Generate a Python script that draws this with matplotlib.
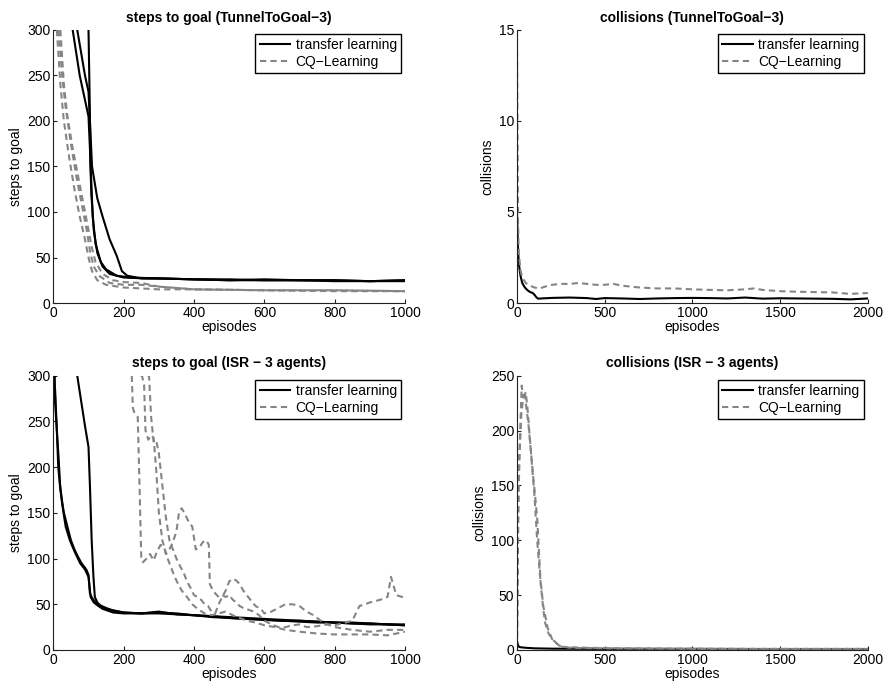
import matplotlib.pyplot as plt

plt.rcParams['font.family'] = ['Liberation Sans', 'DejaVu Sans']
plt.rcParams['font.size'] = 10

# ---- TunnelToGoal-3, steps to goal ----
tg_tl1_x = [55, 75, 100, 104, 108, 115, 125, 140, 160, 200, 260, 300, 400, 500, 600, 700, 800, 900, 1000]
tg_tl1_y = [300, 250, 205, 170, 120, 80, 55, 40, 32, 28, 27, 27, 26, 25, 25, 25, 24, 24, 25]
tg_tl2_x = [68, 90, 100, 104, 110, 125, 140, 160, 180, 195, 210, 250, 300, 400, 500, 600, 700, 800, 900, 1000]
tg_tl2_y = [300, 250, 232, 200, 150, 115, 95, 70, 52, 35, 30, 27, 27, 26, 25, 26, 25, 25, 24, 25]
tg_tl3_x = [100, 103, 106, 112, 120, 135, 150, 180, 220, 300, 400, 500, 600, 700, 800, 900, 1000]
tg_tl3_y = [300, 230, 150, 95, 65, 45, 37, 30, 28, 27, 26, 26, 25, 25, 25, 24, 24]

tg_cq1_x = [10, 15, 20, 30, 45, 60, 75, 90, 100, 110, 125, 150, 200, 300, 400, 600, 800, 1000]
tg_cq1_y = [300, 270, 240, 200, 160, 125, 95, 70, 50, 35, 25, 20, 17, 15, 15, 14, 14, 13]
tg_cq2_x = [15, 20, 25, 35, 50, 65, 80, 95, 105, 115, 130, 160, 200, 250, 300, 400, 600, 800, 1000]
tg_cq2_y = [300, 275, 250, 215, 175, 140, 110, 80, 55, 40, 30, 22, 20, 20, 18, 15, 14, 14, 13]
tg_cq3_x = [20, 25, 30, 40, 55, 70, 85, 100, 110, 120, 140, 170, 200, 250, 300, 400, 600, 800, 1000]
tg_cq3_y = [300, 270, 240, 205, 170, 140, 110, 80, 60, 45, 32, 25, 23, 22, 18, 15, 14, 13, 13]

# ---- TunnelToGoal-3, collisions ----
tgc_tl_x = [0, 5, 10, 20, 30, 45, 60, 75, 90, 100, 110, 120, 140, 200, 300, 400, 450, 500, 600, 700,
            800, 900, 1000, 1100, 1200, 1300, 1400, 1500, 1600, 1700, 1800, 1900, 2000]
tgc_tl_y = [5.0, 3.2, 2.2, 1.5, 1.1, 0.85, 0.7, 0.6, 0.55, 0.45, 0.32, 0.24, 0.25, 0.28, 0.3, 0.27, 0.22,
            0.27, 0.25, 0.22, 0.25, 0.27, 0.28, 0.27, 0.25, 0.3, 0.24, 0.26, 0.25, 0.24, 0.23, 0.2, 0.25]
tgc_cq_x = [0, 3, 6, 10, 20, 30, 50, 75, 100, 130, 160, 200, 250, 300, 350, 400, 450, 500, 550, 600,
            650, 700, 800, 900, 1000, 1100, 1200, 1300, 1350, 1400, 1500, 1600, 1700, 1800, 1900, 2000]
tgc_cq_y = [15, 9, 4.5, 2.8, 1.8, 1.4, 1.1, 0.95, 0.85, 0.8, 0.9, 1.0, 1.05, 1.05, 1.1, 1.05, 1.0, 1.0,
            1.05, 0.95, 0.9, 0.85, 0.8, 0.8, 0.75, 0.72, 0.7, 0.75, 0.8, 0.72, 0.65, 0.62, 0.6, 0.58, 0.5, 0.55]

# ---- ISR 3 agents, steps to goal ----
isr_tl1_x = [0, 3, 6, 10, 14, 20, 30, 40, 50, 60, 70, 80, 90, 95, 100, 104, 110, 120, 130, 150, 170, 200,
             250, 300, 350, 400, 450, 500, 550, 600, 650, 700, 750, 800, 850, 900, 950, 1000]
isr_tl1_y = [270, 300, 265, 240, 200, 175, 150, 135, 120, 110, 102, 95, 90, 87, 82, 62, 57, 52, 49, 46, 43,
             41, 40, 41, 40, 38, 37, 36, 35, 34, 33, 32, 31, 30, 30, 29, 28, 28]
isr_tl2_x = [0, 5, 10, 15, 19, 25, 35, 47, 60, 76, 90, 100, 106, 115, 125, 140, 170, 200, 250, 300, 350,
             400, 450, 500, 550, 600, 650, 700, 750, 800, 850, 900, 950, 1000]
isr_tl2_y = [300, 285, 240, 210, 182, 160, 135, 120, 108, 95, 88, 80, 58, 52, 49, 45, 41, 40, 40, 40, 39,
             38, 37, 35, 34, 33, 32, 32, 31, 30, 29, 29, 28, 27]
isr_tl3_x = [68, 80, 90, 100, 104, 109, 114, 118, 125, 133, 150, 200, 250, 300, 350, 400, 450, 500, 550,
             600, 650, 700, 750, 800, 850, 900, 950, 1000]
isr_tl3_y = [300, 270, 245, 222, 180, 120, 80, 58, 52, 49, 45, 41, 40, 42, 39, 38, 36, 35, 34, 33, 32,
             31, 30, 30, 29, 28, 28, 27]

isr_cq1_x = [223, 226, 230, 240, 245, 250, 255, 265, 275, 285, 295, 305, 315, 325, 335, 345, 355, 365, 380,
             395, 410, 430, 450, 470, 490, 510, 530, 550, 575, 600, 630, 660, 700, 750, 800, 850, 900, 950, 1000]
isr_cq1_y = [300, 265, 260, 255, 180, 100, 96, 100, 105, 98, 108, 115, 112, 100, 90, 80, 72, 65, 58, 50,
             45, 40, 38, 40, 42, 38, 35, 32, 30, 27, 25, 22, 20, 18, 17, 17, 17, 16, 20]
isr_cq2_x = [248, 252, 258, 262, 270, 278, 285, 292, 300, 310, 320, 330, 340, 350, 358, 365, 375, 385, 395,
             405, 415, 425, 435, 442, 445, 450, 460, 470, 480, 490, 500, 510, 520, 530, 540, 555, 570, 585,
             600, 620, 640, 660, 680, 700, 720, 750, 780, 800, 830, 850, 870, 900, 930, 950, 960, 975, 1000]
isr_cq2_y = [300, 300, 290, 240, 230, 235, 232, 200, 150, 120, 105, 110, 118, 130, 152, 155, 148, 140, 135,
             110, 112, 118, 120, 115, 72, 68, 62, 58, 60, 58, 60, 55, 52, 48, 46, 44, 42, 38, 32, 28, 25, 25,
             27, 28, 25, 26, 28, 27, 30, 32, 48, 52, 55, 58, 80, 60, 57]
isr_cq3_x = [268, 272, 278, 285, 292, 300, 310, 320, 330, 340, 350, 360, 370, 380, 390, 400, 410, 420, 430,
             440, 450, 460, 470, 480, 490, 500, 510, 520, 530, 540, 550, 560, 575, 590, 600, 620, 640, 660,
             680, 700, 720, 740, 760, 780, 800, 850, 900, 950, 1000]
isr_cq3_y = [300, 300, 255, 228, 230, 215, 180, 145, 120, 110, 100, 92, 85, 75, 68, 60, 58, 55, 50, 48, 42,
             40, 50, 58, 65, 75, 78, 76, 72, 65, 60, 55, 48, 45, 40, 42, 46, 50, 50, 48, 42, 38, 32, 28, 25,
             22, 20, 22, 22]

# ---- ISR 3 agents, collisions ----
isrc_tl_x = [0, 5, 10, 20, 50, 100, 200, 500, 1000, 1500, 2000]
isrc_tl_y = [8, 5, 3, 2.5, 2, 1.5, 1.2, 1, 1, 0.8, 0.8]
isrc_cq1_x = [0, 3, 6, 10, 15, 22, 27, 35, 45, 51, 65, 80, 93, 105, 116, 125, 135, 148, 160, 180, 207, 245,
              300, 400, 600, 1000, 1500, 2000]
isrc_cq1_y = [2, 60, 120, 173, 185, 218, 241, 230, 235, 224, 206, 180, 157, 138, 118, 90, 61, 40, 25, 15, 9,
              3, 2.5, 2, 1.5, 1.2, 1, 1]
isrc_cq2_x = [0, 5, 10, 18, 25, 32, 40, 50, 60, 70, 85, 100, 115, 130, 150, 175, 200, 240, 300, 500, 1000, 2000]
isrc_cq2_y = [2, 80, 150, 190, 215, 225, 232, 235, 220, 200, 170, 140, 100, 70, 40, 20, 10, 4, 2, 1.5, 1, 1]

BLACK = dict(color='black', lw=1.5, ls='-')
GRAY = dict(color='#858585', lw=1.5, ls=(0, (3, 2)))
labels = ['transfer learning', 'CQ\u2212Learning']

fig = plt.figure(figsize=(8.86, 6.86), dpi=100)
ax1 = fig.add_axes([0.0602, 0.5583, 0.397, 0.398])
ax2 = fig.add_axes([0.5835, 0.5583, 0.396, 0.398])
ax3 = fig.add_axes([0.0602, 0.0525, 0.397, 0.3998])
ax4 = fig.add_axes([0.5835, 0.0525, 0.396, 0.3998])


def style(ax, title, ylabel, xmax, ymax, xticks, yticks, handles):
    ax.set_xlim(0, xmax)
    ax.set_ylim(0, ymax)
    ax.set_xticks(xticks)
    ax.set_yticks(yticks)
    ax.spines['top'].set_visible(False)
    ax.spines['right'].set_visible(False)
    for s in ['left', 'bottom']:
        ax.spines[s].set_linewidth(0.8)
        ax.spines[s].set_color('#222222')
    ax.tick_params(direction='in', length=3, width=0.8, pad=2, labelsize=10, color='#222222')
    ax.set_title(title, fontsize=10, fontweight='bold', pad=6)
    ax.set_xlabel('episodes', fontsize=10, labelpad=0)
    ax.set_ylabel(ylabel, fontsize=10, labelpad=3)
    leg = ax.legend(handles, labels, loc='upper right', fontsize=10,
                    fancybox=False, framealpha=1, edgecolor='black', borderaxespad=0.3,
                    handlelength=2.2, handletextpad=0.4, borderpad=0.3, labelspacing=0.2)
    leg.get_frame().set_linewidth(1.0)


tl = [ax1.plot(x, y, **BLACK)[0] for x, y in
      [(tg_tl1_x, tg_tl1_y), (tg_tl2_x, tg_tl2_y), (tg_tl3_x, tg_tl3_y)]]
cq = [ax1.plot(x, y, **GRAY)[0] for x, y in
      [(tg_cq1_x, tg_cq1_y), (tg_cq2_x, tg_cq2_y), (tg_cq3_x, tg_cq3_y)]]
style(ax1, 'steps to goal (TunnelToGoal\u22123)', 'steps to goal', 1000, 300,
      range(0, 1001, 200), range(0, 301, 50), [tl[0], cq[0]])

a, = ax2.plot(tgc_tl_x, tgc_tl_y, **BLACK)
b, = ax2.plot(tgc_cq_x, tgc_cq_y, **GRAY)
style(ax2, 'collisions (TunnelToGoal\u22123)', 'collisions', 2000, 15,
      range(0, 2001, 500), range(0, 16, 5), [a, b])

tl = [ax3.plot(x, y, **BLACK)[0] for x, y in
      [(isr_tl1_x, isr_tl1_y), (isr_tl2_x, isr_tl2_y), (isr_tl3_x, isr_tl3_y)]]
cq = [ax3.plot(x, y, **GRAY)[0] for x, y in
      [(isr_cq1_x, isr_cq1_y), (isr_cq2_x, isr_cq2_y), (isr_cq3_x, isr_cq3_y)]]
style(ax3, 'steps to goal (ISR \u2212 3 agents)', 'steps to goal', 1000, 300,
      range(0, 1001, 200), range(0, 301, 50), [tl[0], cq[0]])

a, = ax4.plot(isrc_tl_x, isrc_tl_y, **BLACK)
b, = ax4.plot(isrc_cq1_x, isrc_cq1_y, **GRAY)
ax4.plot(isrc_cq2_x, isrc_cq2_y, **GRAY)
style(ax4, 'collisions (ISR \u2212 3 agents)', 'collisions', 2000, 250,
      range(0, 2001, 500), range(0, 251, 50), [a, b])

fig.savefig('out.png', dpi=100)
